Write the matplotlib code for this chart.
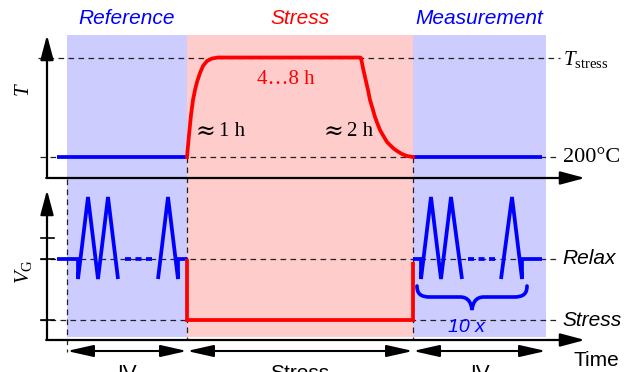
import matplotlib
matplotlib.use("Agg")
import matplotlib.pyplot as plt
from matplotlib.path import Path
from matplotlib.patches import PathPatch, Rectangle

plt.rcParams['mathtext.fontset'] = 'custom'
plt.rcParams['mathtext.rm'] = 'Liberation Serif'
plt.rcParams['mathtext.it'] = 'Liberation Serif:italic'

SANS = ['Liberation Sans', 'DejaVu Sans']
SERIF = ['Liberation Serif', 'DejaVu Serif']
BLUE = '#0000FF'
RED = '#FF0000'
BLUE_BG = '#CCCCFF'
RED_BG = '#FFCCCC'

# ---- phases (x positions along time, in canvas units) ----
phase_names = ['Reference', 'Stress', 'Measurement']
phase_bottom = ['IV', 'Stress', 'IV']
phase_edges = [67, 187, 413, 546]
phase_colors = [BLUE_BG, RED_BG, BLUE_BG]
phase_text_colors = [BLUE, RED, BLUE]

# ---- temperature panel (y in canvas units, down is larger) ----
T_stress_y = 58
T_200_y = 157
T_ref_x = [57, 187]
T_ref_y = [157, 157]
T_stress_x = [187, 189, 191, 193, 195, 197, 200, 203, 207, 212, 218, 225,
              360, 361, 363, 365, 368, 370, 373, 375, 378, 380, 384, 387,
              390, 393, 397, 402, 407, 413]
T_stress_vals = [157, 135, 115, 100, 90, 82, 73, 66, 61, 58.5, 57.5, 57.5,
                 57.5, 58, 68, 77, 90, 100, 110, 117, 125, 130, 137, 142,
                 145, 148, 151, 154, 156, 157]
T_meas_x = [413, 542]
T_meas_y = [157, 157]

# ---- gate voltage panel ----
VG_tick_y = 238
VG_relax_y = 259
VG_stress_y = 320
VG_ref1_x = [57, 78, 78, 88, 98, 108, 118]
VG_ref1_y = [259, 259, 279, 197, 279, 197, 279]
VG_ref_dot_x = [125, 152]
VG_ref2_x = [158, 168, 178, 178, 187]
VG_ref2_y = [279, 197, 279, 259, 259]
VG_str_x = [187, 187, 413, 413]
VG_str_y = [259, 320, 320, 262]
VG_meas1_x = [413, 421, 421, 431, 441, 451, 462]
VG_meas1_y = [259, 259, 279, 197, 279, 197, 279]
VG_meas_dot_x = [468, 496]
VG_meas2_x = [501, 512, 522, 522, 542]
VG_meas2_y = [279, 197, 279, 259, 259]

fig = plt.figure(figsize=(6.34, 3.72), dpi=100)
ax = fig.add_axes([0, 0, 1, 1])
ax.set_xlim(0, 634)
ax.set_ylim(372, 0)
ax.axis('off')

# background shading
shade_top, shade_bot = 35, 337
for i in range(3):
    ax.add_patch(Rectangle((phase_edges[i], shade_top),
                           phase_edges[i + 1] - phase_edges[i],
                           shade_bot - shade_top,
                           facecolor=phase_colors[i], edgecolor='none', zorder=0))
    ax.text((phase_edges[i] + phase_edges[i + 1]) / 2, 18, phase_names[i],
            color=phase_text_colors[i], fontsize=15, style='italic',
            family=SANS, ha='center', va='center')

dash = dict(color='#222222', lw=0.9, linestyle=(0, (4.5, 3.5)), zorder=1)
# horizontal reference lines
ax.plot([38, 560], [T_stress_y, T_stress_y], **dash)
ax.plot([40, 560], [T_200_y, T_200_y], **dash)
ax.plot([40, 560], [VG_relax_y, VG_relax_y], **dash)
ax.plot([40, 560], [VG_stress_y, VG_stress_y], **dash)
# vertical phase boundaries
ax.plot([phase_edges[0]] * 2, [179, 352], **dash)
ax.plot([phase_edges[1]] * 2, [T_200_y, 340], **dash)
ax.plot([phase_edges[2]] * 2, [T_200_y, 340], **dash)

# temperature curves
lw = 2.7
ax.plot(T_ref_x, T_ref_y, color=BLUE, lw=lw, zorder=3, solid_capstyle='butt')
ax.plot(T_meas_x, T_meas_y, color=BLUE, lw=lw, zorder=3, solid_capstyle='butt')
ax.plot(T_stress_x, T_stress_vals, color=RED, lw=lw, zorder=4,
        solid_joinstyle='round')

# gate voltage curves
for xs, ys in [(VG_ref1_x, VG_ref1_y), (VG_ref2_x, VG_ref2_y),
               (VG_meas1_x, VG_meas1_y), (VG_meas2_x, VG_meas2_y)]:
    ax.plot(xs, ys, color=BLUE, lw=lw, zorder=3, solid_joinstyle='miter',
            solid_capstyle='butt')
for xs in [VG_ref_dot_x, VG_meas_dot_x]:
    ax.plot(xs, [VG_relax_y] * 2, color=BLUE, lw=lw, zorder=3,
            linestyle=(0, (1.6, 1.2)))
ax.plot(VG_str_x, VG_str_y, color=RED, lw=lw, zorder=4,
        solid_joinstyle='miter', solid_capstyle='butt')

# brace
bx0, bx1, by0, by1, btip = 417, 527, 286, 297, 310
bm = (bx0 + bx1) / 2
verts = [(bx0, by0), (bx0, by0 + 8), (bx0 + 4, by1), (bx0 + 13, by1),
         (bm - 12, by1),
         (bm - 5, by1), (bm - 1, by1 + 4), (bm, btip),
         (bm + 1, by1 + 4), (bm + 5, by1), (bm + 12, by1),
         (bx1 - 13, by1),
         (bx1 - 4, by1), (bx1, by0 + 8), (bx1, by0)]
codes = [Path.MOVETO, Path.CURVE4, Path.CURVE4, Path.CURVE4,
         Path.LINETO,
         Path.CURVE4, Path.CURVE4, Path.CURVE4,
         Path.CURVE4, Path.CURVE4, Path.CURVE4,
         Path.LINETO,
         Path.CURVE4, Path.CURVE4, Path.CURVE4]
ax.add_patch(PathPatch(Path(verts, codes), facecolor='none', edgecolor=BLUE,
                       lw=2.6, zorder=4, capstyle='round'))
ax.text(bm - 6, 327, '10 x', color=BLUE, fontsize=14, style='italic',
        family=SANS, ha='center', va='center', zorder=5)

# axes with arrows
axis_arrow = dict(arrowstyle='-|>,head_length=0.75,head_width=0.2',
                  mutation_scale=20, lw=1.6, color='black',
                  shrinkA=0, shrinkB=0)
# temperature axes
ax.annotate('', xy=(47, 35), xytext=(47, 178), arrowprops=axis_arrow, zorder=6)
ax.annotate('', xy=(585, 178), xytext=(46.2, 178), arrowprops=axis_arrow, zorder=6)
# gate voltage axes
ax.annotate('', xy=(47, 190), xytext=(47, 340), arrowprops=axis_arrow, zorder=6)
ax.annotate('', xy=(585, 340), xytext=(46.2, 340), arrowprops=axis_arrow, zorder=6)
# ticks
for ty in [VG_tick_y, VG_relax_y, VG_stress_y]:
    ax.plot([41, 54], [ty, ty], color='black', lw=1.2, zorder=6)

# phase duration arrows
dbl = dict(arrowstyle='<|-|>,head_length=0.8,head_width=0.18',
           mutation_scale=20, lw=1.5, color='black', shrinkA=0, shrinkB=0)
for i in range(3):
    ax.annotate('', xy=(phase_edges[i], 351), xytext=(phase_edges[i + 1], 351),
                arrowprops=dbl, zorder=6)
    ax.text((phase_edges[i] + phase_edges[i + 1]) / 2, 364, phase_bottom[i],
            fontsize=15, family=SANS, ha='center', va='top')

# axis labels
ax.text(23, 90, r'$T$', fontsize=15, rotation=90, ha='center', va='center')
ax.text(24, 272, r'$V_\mathrm{G}$', fontsize=15, rotation=90, ha='center',
        va='center')

# right labels
ax.text(563, 60, r'$T_\mathrm{stress}$', fontsize=15, ha='left', va='center')
ax.text(563, 158, '200°C', fontsize=16, family=SERIF, ha='left', va='center')
ax.text(562, 259, 'Relax', fontsize=15, style='italic', family=SANS,
        ha='left', va='center')
ax.text(562, 320, 'Stress', fontsize=15, style='italic', family=SANS,
        ha='left', va='center')
ax.text(573, 360, 'Time', fontsize=15, family=SANS, ha='left', va='center')

# stress annotations
ax.text(286, 79, '4…8 h', color=RED, fontsize=15, family=SERIF,
        ha='center', va='center', zorder=5)
for x_apx, x_lbl, lbl in [(196, 219, '1 h'), (324, 347, '2 h')]:
    ax.text(x_apx, 131, '≈', color='black', fontsize=17,
            family=['DejaVu Serif'], ha='left', va='center', zorder=5)
    ax.text(x_lbl, 132, lbl, color='black', fontsize=15, family=SERIF,
            ha='left', va='center', zorder=5)

fig.savefig('out.png', dpi=100)
